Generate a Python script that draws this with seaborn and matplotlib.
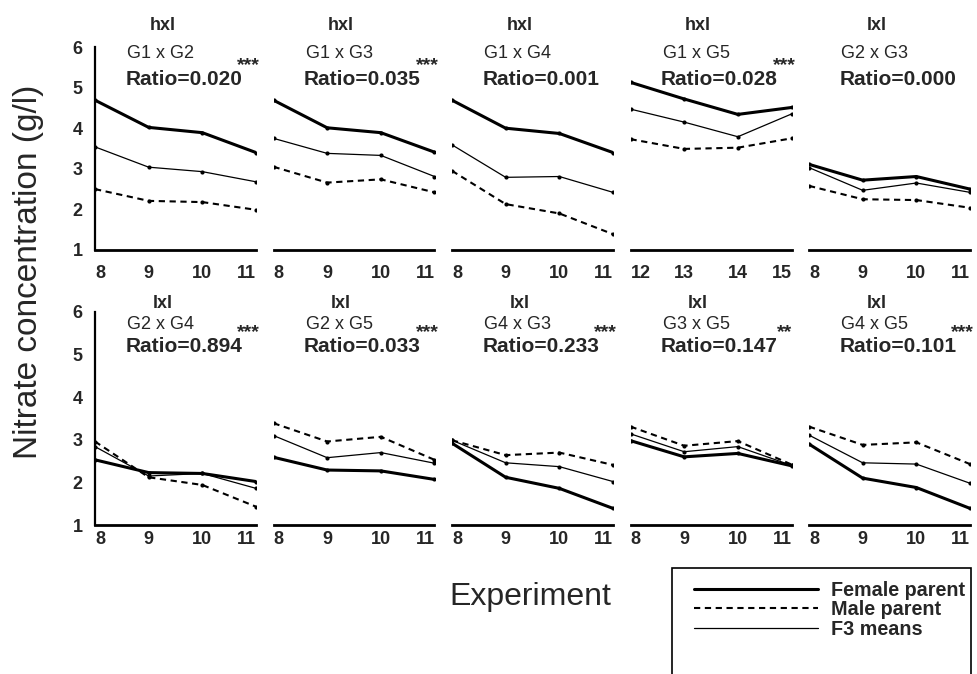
import numpy as np
import pandas as pd
import matplotlib
matplotlib.use("Agg")
import matplotlib.pyplot as plt
import seaborn as sns
from matplotlib.lines import Line2D
from matplotlib.patches import Rectangle

# ---------------- data ----------------
crosses = ["G1 x G2", "G1 x G3", "G1 x G4", "G1 x G5", "G2 x G3",
           "G2 x G4", "G2 x G5", "G4 x G3", "G3 x G5", "G4 x G5"]
cross_type = ["hxl", "hxl", "hxl", "hxl", "lxl",
              "lxl", "lxl", "lxl", "lxl", "lxl"]
ratios = ["Ratio=0.020", "Ratio=0.035", "Ratio=0.001", "Ratio=0.028", "Ratio=0.000",
          "Ratio=0.894", "Ratio=0.033", "Ratio=0.233", "Ratio=0.147", "Ratio=0.101"]
signif = ["***", "***", "", "***", "", "***", "***", "***", "**", "***"]

exp_a = [8, 9, 10, 11]
exp_b = [12, 13, 14, 15]
experiments = [exp_a, exp_a, exp_a, exp_b, exp_a, exp_a, exp_a, exp_a, exp_a, exp_a]

female = [
    [4.69, 4.02, 3.89, 3.40],
    [4.69, 4.01, 3.89, 3.41],
    [4.69, 4.00, 3.87, 3.40],
    [5.13, 4.72, 4.34, 4.51],
    [3.11, 2.72, 2.81, 2.50],
    [2.53, 2.23, 2.21, 2.02],
    [2.59, 2.29, 2.27, 2.07],
    [2.92, 2.12, 1.86, 1.39],
    [2.98, 2.60, 2.68, 2.39],
    [2.90, 2.10, 1.88, 1.39],
]
male = [
    [2.50, 2.21, 2.18, 1.99],
    [3.05, 2.66, 2.74, 2.42],
    [2.95, 2.13, 1.90, 1.39],
    [3.73, 3.49, 3.52, 3.75],
    [2.58, 2.25, 2.23, 2.04],
    [2.96, 2.12, 1.94, 1.43],
    [3.39, 2.96, 3.07, 2.53],
    [2.99, 2.64, 2.70, 2.41],
    [3.31, 2.86, 2.97, 2.42],
    [3.31, 2.88, 2.94, 2.43],
]
f3_means = [
    [3.54, 3.04, 2.93, 2.68],
    [3.75, 3.38, 3.33, 2.81],
    [3.59, 2.79, 2.81, 2.42],
    [4.47, 4.15, 3.79, 4.35],
    [3.03, 2.47, 2.65, 2.42],
    [2.84, 2.15, 2.21, 1.86],
    [3.10, 2.58, 2.70, 2.45],
    [2.99, 2.46, 2.37, 2.02],
    [3.14, 2.72, 2.84, 2.40],
    [3.11, 2.46, 2.43, 1.98],
]
series_names = ["Female parent", "Male parent", "F3 means"]
yticks = [1, 2, 3, 4, 5, 6]

rows = []
for i, c in enumerate(crosses):
    for name, vals in zip(series_names, [female[i], male[i], f3_means[i]]):
        for e, v in zip(experiments[i], vals):
            rows.append({"cross": c, "series": name, "experiment": e, "nitrate": v})
df = pd.DataFrame(rows)

# ---------------- style ----------------
sns.set_theme(style="white")
plt.rcParams["font.family"] = ["Liberation Sans", "DejaVu Sans"]

styles = {
    "Female parent": dict(linewidth=2.2, linestyle="-"),
    "Male parent": dict(linewidth=1.5, linestyle=(0, (3, 2.2))),
    "F3 means": dict(linewidth=0.9, linestyle="-"),
}

W, H = 977, 674
fig = plt.figure(figsize=(W / 100, H / 100), dpi=100)

row_px = [(47, 250), (312, 525)]  # top, bottom in pixels
row_pad = [11, 4]
text_y = [  # type, cross, ratio, stars-baseline (axes fraction)
    (1.108, 0.970, 0.842, 0.884),
    (1.042, 0.939, 0.836, 0.882),
]
lefts = [95 + i * 178.5 for i in range(5)]
width = 161

for idx, c in enumerate(crosses):
    r, col = divmod(idx, 5)
    top, bot = row_px[r]
    ax = fig.add_axes([lefts[col] / W, 1 - bot / H, width / W, (bot - top) / H])
    sub = df[df["cross"] == c]
    for name in series_names:
        s = sub[sub["series"] == name]
        sns.lineplot(data=s, x="experiment", y="nitrate", ax=ax, color="black",
                     marker="o", markersize=3.0, markeredgewidth=0,
                     label=name, legend=False, **styles[name])
    xs = experiments[idx]
    ax.set_xlim(xs[0], xs[-1])
    ax.set_ylim(1, 6)
    ax.set_xticks(xs)
    ax.set_xticklabels([str(x) for x in xs], fontsize=13, fontweight="bold")
    xl = ax.get_xticklabels()
    xl[0].set_ha("left")
    xl[-1].set_ha("right")
    ax.set_xlabel("")
    ax.set_ylabel("")
    for sp in ["top", "right"]:
        ax.spines[sp].set_visible(False)
    ax.spines["bottom"].set_color("black")
    ax.spines["bottom"].set_linewidth(2.0)
    ax.tick_params(axis="x", length=0, pad=row_pad[r])
    if col == 0:
        ax.spines["left"].set_color("black")
        ax.spines["left"].set_linewidth(1.6)
        ax.set_yticks(yticks)
        ax.set_yticklabels([str(y) for y in yticks], fontsize=13, fontweight="bold")
        ax.tick_params(axis="y", length=3, direction="in", pad=9, color="black")
    else:
        ax.spines["left"].set_visible(False)
        ax.set_yticks([])
    ax.patch.set_alpha(0)
    ty, cy, ry, sy = text_y[r]
    ax.text(0.42, ty, cross_type[idx], transform=ax.transAxes, ha="center",
            va="center", fontsize=13, fontweight="bold")
    ax.text(0.2, cy, c, transform=ax.transAxes, ha="left", va="center",
            fontsize=13)
    ax.text(0.19, ry, ratios[idx], transform=ax.transAxes, ha="left",
            va="center", fontsize=15, fontweight="bold")
    if signif[idx]:
        ax.text(0.955, sy, signif[idx], transform=ax.transAxes, ha="center",
                va="baseline", fontsize=14, fontweight="bold")

fig.text(29 / W, 1 - 272 / H, "Nitrate concentration (g/l)", rotation=90,
         ha="center", va="center", fontsize=24)
fig.text(530 / W, 1 - 597 / H, "Experiment", ha="center", va="center",
         fontsize=23)

# legend frame (runs off the bottom edge as in the original)
fig.patches.append(Rectangle((672 / W, -0.02), (971 - 672) / W, 0.02 + (674 - 568) / H,
                             transform=fig.transFigure, fill=False,
                             edgecolor="black", linewidth=1.2))
leg_handles = [Line2D([], [], color="black", **styles[n]) for n in series_names]
leg = fig.legend(leg_handles, series_names, loc="upper left",
                 bbox_to_anchor=(694 / W, 1 - 581 / H), frameon=False,
                 handlelength=6.3, handletextpad=0.65, labelspacing=0.02,
                 borderpad=0.0, borderaxespad=0.0,
                 prop={"size": 14.2, "weight": "bold"})

fig.savefig("out.png", dpi=100)
